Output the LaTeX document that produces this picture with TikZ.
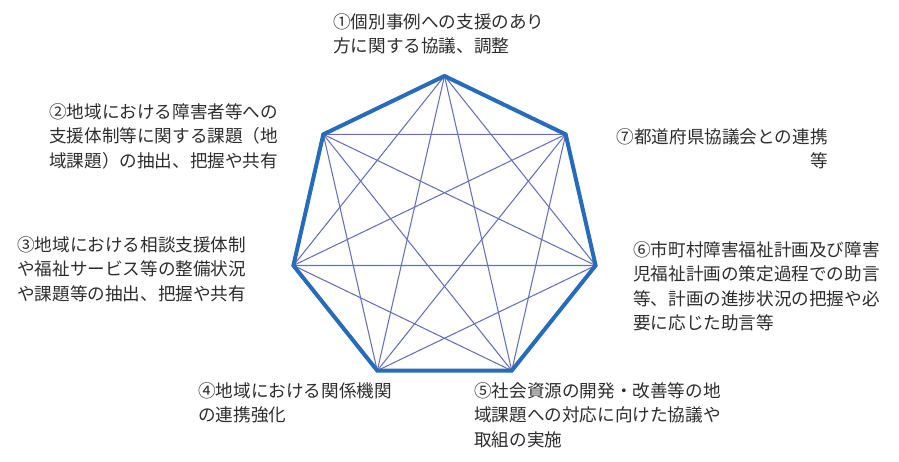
\documentclass[tikz,border=0pt]{standalone}
\usepackage{fontspec}
\usepackage{xcolor}
\newfontfamily\cjk{Noto Sans CJK JP}
\definecolor{rimblue}{RGB}{38,108,186}
\definecolor{chordblue}{RGB}{104,112,182}
\definecolor{txtgray}{RGB}{45,45,45}
\usetikzlibrary{calc}

\begin{document}
\begin{tikzpicture}[x=0.75pt, y=0.75pt,
	rim/.style={color=rimblue, line width=3pt, line join=miter},
	chord/.style={color=chordblue, line width=0.8pt},
	lbl/.style={inner sep=0pt, align=left, text=txtgray, font=\cjk\fontsize{13.2}{18.4}\selectfont}]
	\useasboundingbox (0,0) rectangle (899,461);
	\coordinate (c) at (444.5,230);
	% corners, counter-clockwise from the top
	\foreach \i in {1,...,7}
	  \path (c) ++({90+(\i-1)*360/7}:155) coordinate (v\i);
	\foreach \i in {1,...,6} {
	  \pgfmathtruncatemacro\k{\i+1}
	  \foreach \j in {\k,...,7}
	    \draw[chord] (v\i) -- (v\j);
	}
	\draw[rim] (v1) -- (v2) -- (v3) -- (v4) -- (v5) -- (v6) -- (v7) -- cycle;
	% the seven roles
	\node[lbl, anchor=north west] (r1) at (333,448) {①個別事例への支援のあり\\方に関する協議、調整};
	\node[lbl, anchor=north west] (r2) at (49,358) {②地域における障害者等への\\支援体制等に関する課題（地\\域課題）の抽出、把握や共有};
	\node[lbl, anchor=north west] (r3) at (17,225) {③地域における相談支援体制\\や福祉サービス等の整備状況\\や課題等の抽出、把握や共有};
	\node[lbl, anchor=north west] (r4) at (198,79) {④地域における関係機関\\の連携強化};
	\node[lbl, anchor=north west] (r5) at (474,79) {⑤社会資源の開発・改善等の地\\域課題への対応に向けた協議や\\取組の実施};
	\node[lbl, anchor=north west] (r6) at (633,220) {⑥市町村障害福祉計画及び障害\\児福祉計画の策定過程での助言\\等、計画の進捗状況の把握や必\\要に応じた助言等};
	\node[lbl, anchor=north east, align=right] (r7) at (828,333) {⑦都道府県協議会との連携\\等};
\end{tikzpicture}
\end{document}
